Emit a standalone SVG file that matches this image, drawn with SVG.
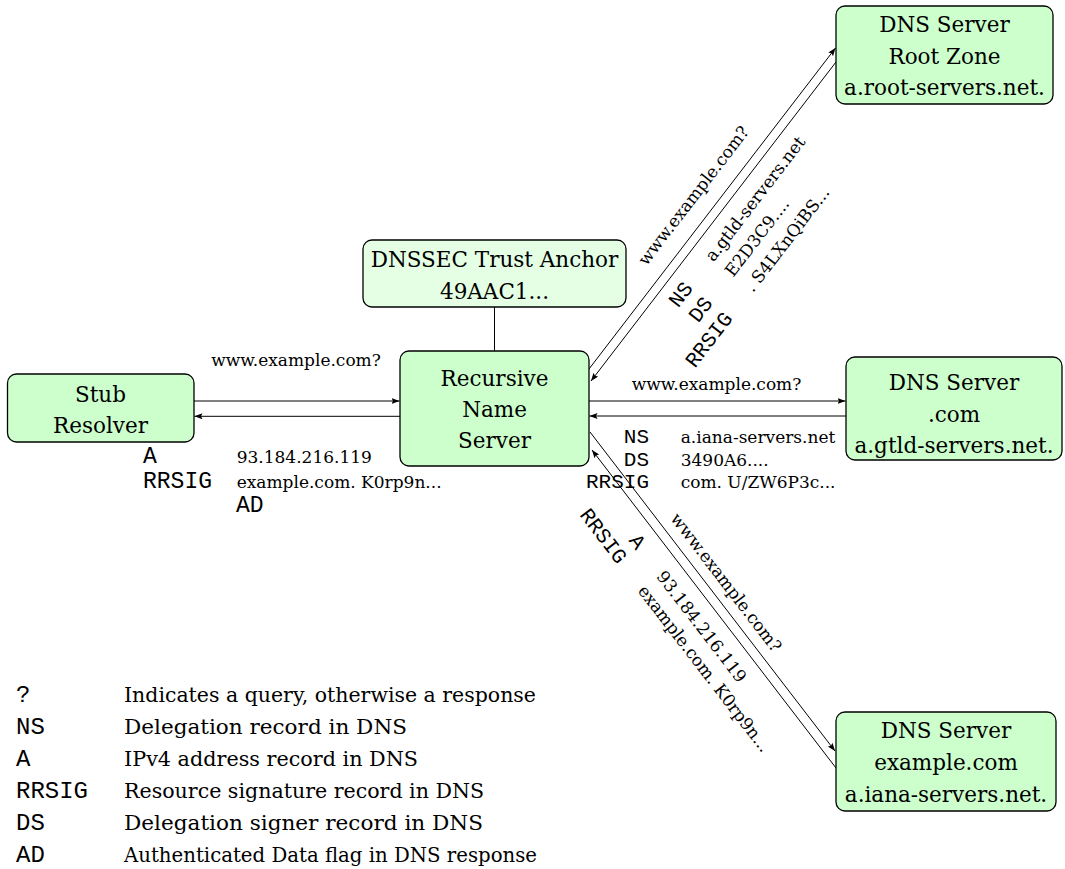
<svg xmlns="http://www.w3.org/2000/svg" width="1065" height="869" viewBox="0 0 1065 869">
<defs>
<style>
.node rect{fill:#ccffcc;stroke:#000;stroke-width:1.3}
#trust rect{fill:#e5ffe5}
.nt{font-family:"DejaVu Serif",serif;font-size:21.5px;text-anchor:middle;fill:#000}
.lb{font-family:"DejaVu Serif",serif;font-size:17px;fill:#000}
.mono{font-family:"Liberation Mono",monospace;font-size:21px;fill:#000}
.monoL{font-family:"Liberation Mono",monospace;font-size:23px;fill:#000}
.end{text-anchor:end}
.mid{text-anchor:middle}
#connectors line{stroke:#000;stroke-width:1;fill:none}
.arr{marker-end:url(#ah)}
.lg{font-family:"DejaVu Serif",serif;font-size:21px;fill:#000}
.lgm{font-family:"Liberation Mono",monospace;font-size:24px;fill:#000}
</style>
<marker id="ah" markerUnits="userSpaceOnUse" markerWidth="9" markerHeight="7" refX="8" refY="3" orient="auto">
<path d="M0,0 L8,3 L0,6 L1.5,3 z" fill="#000"/>
</marker>
</defs>
<rect width="1065" height="869" fill="#fff"/>

<g id="connectors">
<line class="arr" x1="194" y1="401" x2="399.5" y2="401"/>
<line class="arr" x1="400" y1="416.3" x2="194.5" y2="416.3"/>
<line x1="494.5" y1="307" x2="494.5" y2="351"/>
<line class="arr" x1="589" y1="369" x2="835.5" y2="48"/>
<line class="arr" x1="836" y1="62" x2="591" y2="381"/>
<line class="arr" x1="589" y1="401" x2="845.5" y2="401"/>
<line class="arr" x1="846" y1="416" x2="589.5" y2="416"/>
<line class="arr" x1="590" y1="432" x2="835" y2="751"/>
<line class="arr" x1="836" y1="768" x2="592" y2="450"/>
</g>

<g id="stub" class="node">
<rect x="7.5" y="374" width="186.5" height="68" rx="9"/>
<text class="nt" x="100.5" y="401.7">Stub</text>
<text class="nt" x="100.5" y="432.7">Resolver</text>
</g>
<g id="recursive" class="node">
<rect x="400" y="351" width="189" height="115" rx="9"/>
<text class="nt" x="494.5" y="385.7">Recursive</text>
<text class="nt" x="494.5" y="416.7">Name</text>
<text class="nt" x="494.5" y="448.3">Server</text>
</g>
<g id="trust" class="node">
<rect x="363" y="240" width="263" height="67" rx="9"/>
<text class="nt" x="494.5" y="266.7">DNSSEC Trust Anchor</text>
<text class="nt" x="494.5" y="299">49AAC1...</text>
</g>
<g id="root" class="node">
<rect x="836" y="6" width="217" height="98" rx="9"/>
<text class="nt" x="944.5" y="32.3">DNS Server</text>
<text class="nt" x="944.5" y="64">Root Zone</text>
<text class="nt" x="944.5" y="95">a.root-servers.net.</text>
</g>
<g id="com" class="node">
<rect x="846" y="357" width="216" height="103" rx="9"/>
<text class="nt" x="954" y="390">DNS Server</text>
<text class="nt" x="954" y="422">.com</text>
<text class="nt" x="954" y="453">a.gtld-servers.net.</text>
</g>
<g id="example" class="node">
<rect x="836" y="712" width="220" height="99" rx="9"/>
<text class="nt" x="946" y="738.3">DNS Server</text>
<text class="nt" x="946" y="770">example.com</text>
<text class="nt" x="946" y="801.7">a.iana-servers.net.</text>
</g>

<g id="labels">
<text class="lb mid" x="296" y="366">www.example.com?</text>
<text class="monoL" x="143" y="463.3">A</text>
<text class="monoL" x="143" y="487.7">RRSIG</text>
<text class="lb" x="236.7" y="463.3">93.184.216.119</text>
<text class="lb" x="236.7" y="487.7">example.com. K0rp9n...</text>
<text class="monoL" x="236" y="512">AD</text>

<text class="lb mid" x="716.5" y="390">www.example.com?</text>
<text class="mono end" x="649" y="443">NS</text>
<text class="mono end" x="649" y="465.5">DS</text>
<text class="mono end" x="649" y="488">RRSIG</text>
<text class="lb" x="680.7" y="443">a.iana-servers.net</text>
<text class="lb" x="680.7" y="465.5">3490A6....</text>
<text class="lb" x="680.7" y="488">com. U/ZW6P3c...</text>

<g transform="translate(591 381) rotate(-52.47)">
<text class="lb mid" x="209.5" y="-25.9">www.example.com?</text>
<text class="mono end" x="136" y="25">NS</text>
<text class="mono end" x="136" y="50">DS</text>
<text class="mono end" x="136" y="75">RRSIG</text>
<text class="lb" x="168.5" y="25">a.gtld-servers.net</text>
<text class="lb" x="168.5" y="50">E2D3C9....</text>
<text class="lb" x="168.5" y="75">. S4LXnQiBS...</text>
</g>

<g transform="translate(592 450) rotate(52.47)">
<text class="lb mid" x="186.7" y="-19.9">www.example.com?</text>
<text class="mono end" x="106.6" y="26.5">A</text>
<text class="mono end" x="106.6" y="50">RRSIG</text>
<text class="lb" x="139.3" y="26.5">93.184.216.119</text>
<text class="lb" x="139.3" y="50">example.com. K0rp9n...</text>
</g>
</g>

<g id="legend">
<text class="lgm" x="16" y="701.5">?</text>
<text class="lgm" x="16" y="733.6">NS</text>
<text class="lgm" x="16" y="765.7">A</text>
<text class="lgm" x="16" y="797.8">RRSIG</text>
<text class="lgm" x="16" y="830">DS</text>
<text class="lgm" x="16" y="862.1">AD</text>
<text class="lg" x="124" y="701.5" textLength="412" lengthAdjust="spacingAndGlyphs">Indicates a query, otherwise a response</text>
<text class="lg" x="124" y="733.6" textLength="283" lengthAdjust="spacingAndGlyphs">Delegation record in DNS</text>
<text class="lg" x="124" y="765.7" textLength="294" lengthAdjust="spacingAndGlyphs">IPv4 address record in DNS</text>
<text class="lg" x="124" y="797.8" textLength="360" lengthAdjust="spacingAndGlyphs">Resource signature record in DNS</text>
<text class="lg" x="124" y="830" textLength="359" lengthAdjust="spacingAndGlyphs">Delegation signer record in DNS</text>
<text class="lg" x="124" y="862.1" textLength="413" lengthAdjust="spacingAndGlyphs">Authenticated Data flag in DNS response</text>
</g>
</svg>
